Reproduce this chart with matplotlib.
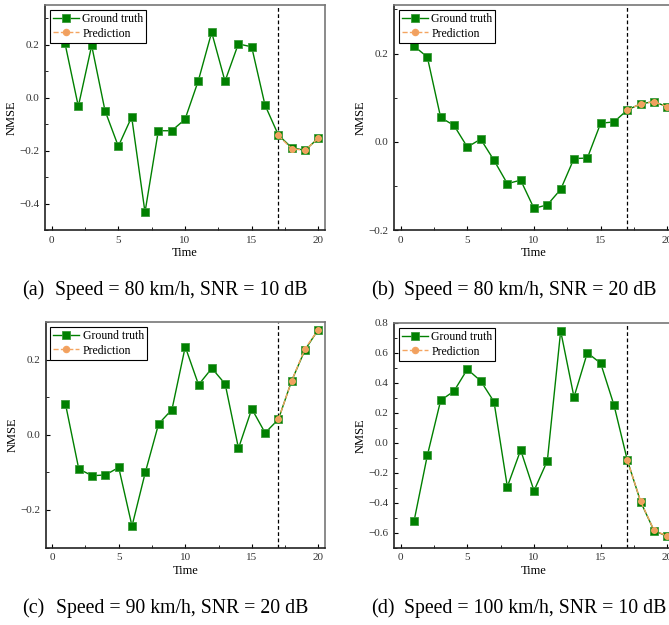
import numpy as np
import matplotlib
matplotlib.use('Agg')
import matplotlib.pyplot as plt
from matplotlib.ticker import MultipleLocator, FuncFormatter

plt.rcParams['font.family'] = ['Liberation Serif', 'DejaVu Serif']

time = np.arange(1, 21)
pred_time = np.arange(17, 21)

truth_a = [0.205, -0.033, 0.197, -0.049, -0.184, -0.073, -0.433, -0.125, -0.125, -0.082,
           0.064, 0.247, 0.062, 0.203, 0.192, -0.028, -0.141, -0.189, -0.199, -0.153]
pred_a = [-0.143, -0.193, -0.199, -0.153]

truth_b = [0.217, 0.192, 0.055, 0.037, -0.012, 0.006, -0.042, -0.095, -0.087, -0.151,
           -0.143, -0.108, -0.038, -0.037, 0.042, 0.045, 0.072, 0.086, 0.091, 0.079]
pred_b = [0.072, 0.086, 0.091, 0.079]

truth_c = [0.082, -0.091, -0.109, -0.107, -0.087, -0.243, -0.100, 0.029, 0.067, 0.234,
           0.133, 0.177, 0.135, -0.036, 0.069, 0.005, 0.041, 0.144, 0.226, 0.280]
pred_c = [0.041, 0.144, 0.229, 0.280]

truth_d = [-0.525, -0.085, 0.283, 0.345, 0.491, 0.413, 0.274, -0.294, -0.049, -0.321,
           -0.121, 0.747, 0.305, 0.601, 0.531, 0.251, -0.117, -0.395, -0.587, -0.626]
pred_d = [-0.117, -0.392, -0.585, -0.624]

letters = ['(a)', '(b)', '(c)', '(d)']
captions = ['Speed = 80 km/h, SNR = 10 dB', 'Speed = 80 km/h, SNR = 20 dB',
            'Speed = 90 km/h, SNR = 20 dB', 'Speed = 100 km/h, SNR = 10 dB']
ylims = [(-0.5, 0.35), (-0.2, 0.31), (-0.3, 0.3), (-0.7, 0.8)]

fig = plt.figure(figsize=(6.69, 6.25), dpi=100)

W, H = 669, 625
# axes boxes in pixels: left, top, right, bottom
boxes = [(45, 5, 325, 230), (394, 5, 674, 230),
         (45.5, 322, 325, 547.5), (394, 323, 674, 547.5)]

fmt = FuncFormatter(lambda v, p: ('%.1f' % v).replace('-', '\u2212'))

panels = [(truth_a, pred_a), (truth_b, pred_b), (truth_c, pred_c), (truth_d, pred_d)]

for i, (truth, pred) in enumerate(panels):
    l, t, r, b = boxes[i]
    ax = fig.add_axes([l / W, 1 - b / H, (r - l) / W, (b - t) / H])

    ax.plot(time, truth, color='#008000', linewidth=1.0, marker='s', markersize=5.5,
            markerfacecolor='#008000', markeredgecolor='#3a9a3a', markeredgewidth=0.6,
            label='Ground truth', zorder=3)
    ax.plot(pred_time, pred, color='#f4a460', linewidth=1.0, linestyle='--', marker='o',
            markersize=4, markerfacecolor='#f0a060', markeredgecolor='#f4a460',
            label='Prediction', zorder=4)
    ax.axvline(17, color='black', linestyle='--', linewidth=0.9, dashes=(3, 2), zorder=2)

    ax.set_xlim(-0.5, 20.5)
    ax.set_ylim(*ylims[i])
    ax.xaxis.set_major_locator(MultipleLocator(5))
    ax.xaxis.set_minor_locator(MultipleLocator(2.5))
    ax.yaxis.set_major_locator(MultipleLocator(0.2))
    ax.yaxis.set_minor_locator(MultipleLocator(0.1))
    ax.yaxis.set_major_formatter(fmt)
    ax.tick_params(which='major', direction='in', length=3, width=0.8, labelsize=8,
                   labelcolor='#333333', pad=4)
    ax.tick_params(which='minor', direction='in', length=2, width=0.6)

    for side in ['left', 'bottom']:
        ax.spines[side].set_linewidth(1.2)
        ax.spines[side].set_color('#222222')
    for side in ['top', 'right']:
        ax.spines[side].set_linewidth(1.2)
        ax.spines[side].set_color('#777777')

    ax.set_xlabel('Time', fontsize=9, labelpad=2)
    ax.set_ylabel('NMSE', fontsize=9, labelpad=1)

    leg = ax.legend(loc='upper left', fontsize=8.5, frameon=True, fancybox=False,
                    edgecolor='black', framealpha=1, borderpad=0.25, labelspacing=0.25,
                    handlelength=2.2, handletextpad=0.3, borderaxespad=0.4,
                    markerscale=1.1)
    leg.get_frame().set_linewidth(0.8)

    cx = l - 23
    cy = 1 - (b + 61) / H
    fig.text(cx / W, cy, letters[i], fontsize=14.5, va='center', ha='left')
    fig.text((cx + 33) / W, cy, captions[i], fontsize=14.2, va='center', ha='left')

fig.savefig('out.png', dpi=100)
